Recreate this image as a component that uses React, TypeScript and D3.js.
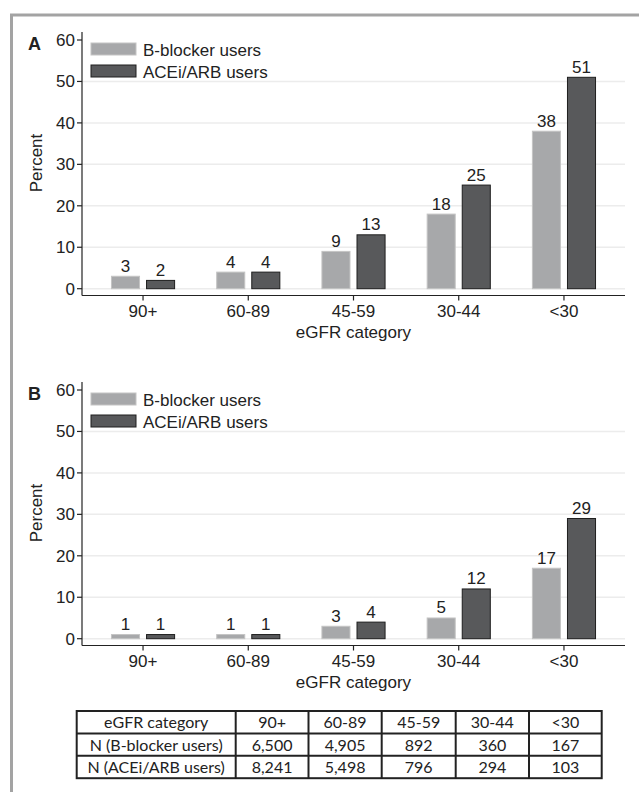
import React from 'react';
import * as d3 from 'd3';

const categories = ['90+', '60-89', '45-59', '30-44', '<30'];
const seriesNames = ['B-blocker users', 'ACEi/ARB users'];
const panelAB = [3, 4, 9, 18, 38];
const panelAAce = [2, 4, 13, 25, 51];
const panelBB = [1, 1, 3, 5, 17];
const panelBAce = [1, 1, 4, 12, 29];
const yTicks = [0, 10, 20, 30, 40, 50, 60];
const nBblocker = [6500, 4905, 892, 360, 167];
const nAce = [8241, 5498, 796, 294, 103];

const W = 639;
const H = 792;
const chartFont = '"Liberation Sans", Arial, sans-serif';
const tableFont = 'Lato, "Open Sans", sans-serif';
const fs = 17;
const fills = ['#a7a8aa', '#58595b'];
const strokes = ['#c4c4c4', '#1e1e1e'];

const Panel = ({ top, letter, b, a }: { top: number; letter: string; b: number[]; a: number[] }) => {
  const left = 82;
  const right = 625;
  const y = d3.scaleLinear().domain([0, 60]).range([top + 288.7, top + 40]);
  const x0 = d3.scaleBand().domain(categories).range([left, right]).paddingInner(0.4).paddingOuter(0.28);
  const x1 = d3.scaleBand().domain(seriesNames).range([0, x0.bandwidth()]).paddingInner(0.2);
  const axisY = top + 295.5;
  const series = [b, a];

  return (
    <g>
      <text x={28} y={top + 50} fontFamily={chartFont} fontWeight="bold" fontSize={18} fill="#222">{letter}</text>
      {yTicks.filter(t => t < 60).map(t => (
        <line key={'g' + t} x1={left} x2={right} y1={y(t)} y2={y(t)} stroke="#ececec" strokeWidth={1.5} />
      ))}
      {categories.map((c, i) =>
        series.map((s, j) => (
          <rect key={c + j} x={x0(c)! + x1(seriesNames[j])!} y={y(s[i])} width={x1.bandwidth()}
            height={y(0) - y(s[i])} fill={fills[j]} stroke={strokes[j]} strokeWidth={1} />
        ))
      )}
      {categories.map((c, i) =>
        series.map((s, j) => (
          <text key={'v' + c + j} x={x0(c)! + x1(seriesNames[j])! + x1.bandwidth() / 2} y={y(s[i]) - 4.5}
            textAnchor="middle" fontFamily={chartFont} fontSize={fs} fill="#222">{s[i]}</text>
        ))
      )}
      <line x1={left} x2={left} y1={top + 32} y2={axisY} stroke="#222" strokeWidth={1.2} />
      <line x1={left} x2={right} y1={axisY} y2={axisY} stroke="#222" strokeWidth={1.2} />
      {yTicks.map(t => (
        <g key={'t' + t}>
          <line x1={left - 5} x2={left} y1={y(t)} y2={y(t)} stroke="#222" strokeWidth={1.2} />
          <text x={left - 7} y={y(t) + 6} textAnchor="end" fontFamily={chartFont} fontSize={fs} fill="#222">{t}</text>
        </g>
      ))}
      {categories.map(c => {
        const cx = x0(c)! + x0.bandwidth() / 2;
        return (
          <g key={'x' + c}>
            <line x1={cx} x2={cx} y1={axisY} y2={axisY + 5} stroke="#222" strokeWidth={1.2} />
            <text x={cx} y={top + 316.5} textAnchor="middle" fontFamily={chartFont} fontSize={fs} fill="#222">{c}</text>
          </g>
        );
      })}
      <text x={(left + right) / 2} y={top + 337.5} textAnchor="middle" fontFamily={chartFont} fontSize={fs} fill="#222">eGFR category</text>
      <text transform={`translate(42,${top + 163}) rotate(-90)`} textAnchor="middle" fontFamily={chartFont} fontSize={fs} fill="#222">Percent</text>
      {seriesNames.map((n, j) => (
        <g key={'l' + n}>
          <rect x={91} y={top + 43 + j * 22} width={45} height={12} fill={fills[j]} stroke={strokes[j]} strokeWidth={1} />
          <text x={143} y={top + 55.5 + j * 22} fontFamily={chartFont} fontSize={fs} fill="#222">{n}</text>
        </g>
      ))}
    </g>
  );
};

const Table = () => {
  const colX = [76.7, 235.7, 308.5, 381.7, 455.7, 529, 601.7];
  const rowY = [711, 733.4, 755.8, 778.2];
  const fmt = d3.format(',');
  const rows = [
    ['eGFR category', ...categories],
    ['N (B-blocker users)', ...nBblocker.map(fmt)],
    ['N (ACEi/ARB users)', ...nAce.map(fmt)],
  ];
  return (
    <g>
      <rect x={colX[0]} y={rowY[0]} width={colX[6] - colX[0]} height={rowY[3] - rowY[0]} fill="#fff" stroke="#222" strokeWidth={2} />
      {rowY.slice(1, 3).map(ry => (
        <line key={'r' + ry} x1={colX[0]} x2={colX[6]} y1={ry} y2={ry} stroke="#222" strokeWidth={2} />
      ))}
      {colX.slice(1, 6).map(cx => (
        <line key={'c' + cx} x1={cx} x2={cx} y1={rowY[0]} y2={rowY[3]} stroke="#222" strokeWidth={2} />
      ))}
      {rows.map((r, ri) =>
        r.map((cell, ci) => (
          <text key={ri + '-' + ci} x={(colX[ci] + colX[ci + 1]) / 2} y={rowY[ri + 1] - 5}
            textAnchor="middle" fontFamily={tableFont} fontSize={16} fill="#222">{cell}</text>
        ))
      )}
    </g>
  );
};

export default function App() {
  return (
    <svg width={W} height={H} style={{ position: 'absolute', left: 0, top: 0, background: '#fff' }}>
      <rect x={0} y={0} width={W} height={H} fill="#fff" />
      <path d={`M11.5,${H} V15 H${W}`} fill="none" stroke="#a3a3a3" strokeWidth={3} />
      <Panel top={0} letter="A" b={panelAB} a={panelAAce} />
      <Panel top={350} letter="B" b={panelBB} a={panelBAce} />
      <Table />
    </svg>
  );
}
